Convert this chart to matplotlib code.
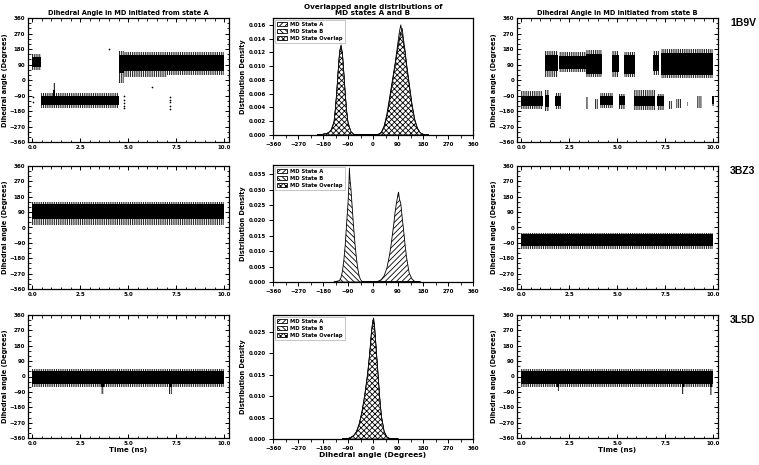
import numpy as np
import matplotlib
matplotlib.use("Agg")
import matplotlib.pyplot as plt
from matplotlib.ticker import MultipleLocator, FormatStrFormatter
from matplotlib.patches import Patch

plt.rcParams['font.family'] = ['DejaVu Sans']
plt.rcParams['hatch.linewidth'] = 0.6

# ---------------- data ----------------
ROW_LABELS = ["1B9V", "3BZ3", "3L5D"]
TITLE_LEFT = "Dihedral Angle in MD initiated from state A"
TITLE_MID = "Overlapped angle distributions of\nMD states A and B"
TITLE_RIGHT = "Dihedral Angle in MD initiated from state B"
LEGEND_LABELS = ["MD State A", "MD State B", "MD State Overlap"]

# dense trajectory bands: (t_start, t_end, outer_low, core_low, core_high, outer_high)
BANDS_1B9V_A = [(0.0, 0.45, 60, 75, 135, 150), (0.45, 4.5, -165, -145, -90, -75),
                (1.1, 1.2, -90, -90, -60, -20),
                (4.5, 4.8, -15, 40, 145, 170), (4.8, 7.0, 20, 50, 145, 165),
                (7.0, 10.0, 30, 55, 145, 165)]
BANDS_1B9V_B = [(1.25, 1.9, 20, 50, 145, 170), (1.98, 3.4, 45, 65, 140, 160),
                (3.4, 4.2, 15, 35, 150, 175), (4.72, 5.1, 20, 45, 145, 170),
                (5.33, 5.94, 15, 35, 145, 165), (6.85, 7.17, 30, 55, 145, 170),
                (7.26, 10.0, 10, 30, 155, 180),
                (0.0, 1.14, -170, -150, -90, -65), (1.22, 1.45, -180, -155, -85, -60),
                (1.75, 2.05, -170, -150, -90, -75), (4.1, 4.8, -165, -145, -90, -75),
                (5.07, 5.42, -170, -145, -90, -80), (5.86, 6.99, -175, -150, -90, -60),
                (7.08, 7.43, -175, -150, -95, -80), (9.93, 10.02, -150, -140, -95, -90)]
SPARSE_1B9V_B = [(3.37, 3.5, -170, -100), (3.85, 4.02, -170, -110), (7.7, 7.87, -170, -120),
                 (8.04, 8.4, -165, -110), (8.62, 8.7, -150, -130), (9.18, 9.44, -160, -90)]
BANDS_3BZ3_A = [(0.0, 10.0, 15, 50, 135, 150)]
BANDS_3BZ3_B = [(0.0, 10.0, -125, -111, -40, -30)]
BANDS_3L5D_A = [(0.0, 10.0, -60, -42, 32, 45), (3.6, 3.72, -100, -60, -42, -42),
                (7.15, 7.27, -105, -60, -42, -42)]
BANDS_3L5D_B = [(0.0, 10.0, -60, -42, 34, 45), (1.85, 1.95, -85, -60, -42, -42),
                (8.4, 8.5, -105, -60, -42, -42), (9.85, 9.95, -110, -60, -42, -42)]

PTS_1B9V_A_T = [0.05, 0.05, 4.0, 4.76, 4.76, 4.76, 4.76, 4.76, 6.25, 7.2, 7.2, 7.2, 7.2, 7.2]
PTS_1B9V_A_Y = [-100, -130, 180, -95, -115, -135, -150, -165, -41, -100, -115, -130, -150, -170]

# distributions (x in degrees, density)
X_1B9V = [-200, -180, -160, -150, -140, -135, -130, -125, -120, -115, -110, -105, -100, -95,
          -90, -80, -70, -50, 0, 20, 30, 40, 50, 60, 70, 80, 90, 95, 100, 105, 110, 115, 120,
          130, 140, 150, 160, 170, 180, 200]
A_1B9V = [0, 0.0001, 0.0003, 0.0008, 0.002, 0.004, 0.0065, 0.0095, 0.0122, 0.0131, 0.0118,
          0.009, 0.006, 0.0035, 0.0018, 0.0005, 0.0001, 0, 0, 0.0001, 0.0004, 0.0013, 0.003,
          0.0055, 0.008, 0.0105, 0.0135, 0.015, 0.016, 0.0148, 0.0132, 0.012, 0.0102, 0.0072,
          0.0043, 0.0021, 0.0009, 0.0003, 0.0001, 0]
B_1B9V = [0, 0.0001, 0.0003, 0.0007, 0.0018, 0.0038, 0.0063, 0.0093, 0.012, 0.0128, 0.0116,
          0.0088, 0.0058, 0.0034, 0.0017, 0.0005, 0.0001, 0, 0, 0.0001, 0.0003, 0.0011, 0.0027,
          0.005, 0.0076, 0.0102, 0.0128, 0.0138, 0.0148, 0.0155, 0.0138, 0.0124, 0.0106, 0.0076,
          0.0046, 0.0023, 0.001, 0.0003, 0.0001, 0]

X_3BZ3 = [-140, -120, -115, -110, -105, -100, -95, -90, -87, -85, -83, -80, -75, -70, -65, -60,
          -55, -50, -45, -40, -30, 0, 10, 20, 30, 40, 50, 60, 65, 70, 75, 80, 85, 90, 92, 95,
          100, 105, 110, 115, 120, 130, 140, 150, 170]
A_3BZ3 = [0, 0, 0, 0, 0, 0, 0, 0, 0, 0, 0, 0, 0, 0, 0, 0, 0, 0, 0, 0, 0, 0, 0.0001, 0.0003,
          0.0008, 0.002, 0.0045, 0.009, 0.012, 0.0155, 0.019, 0.023, 0.026, 0.0285, 0.0292,
          0.027, 0.0255, 0.021, 0.017, 0.0125, 0.0085, 0.003, 0.001, 0.0002, 0]
B_3BZ3 = [0, 0.0005, 0.0015, 0.0035, 0.007, 0.012, 0.019, 0.0255, 0.031, 0.037, 0.0335, 0.031,
          0.0245, 0.018, 0.0125, 0.008, 0.0045, 0.002, 0.0008, 0.0002, 0, 0, 0, 0, 0, 0, 0, 0,
          0, 0, 0, 0, 0, 0, 0, 0, 0, 0, 0, 0, 0, 0, 0, 0, 0]

X_3L5D = [-110, -90, -80, -70, -60, -50, -40, -30, -20, -15, -10, -5, 0, 2, 5, 10, 15, 20, 25,
          30, 40, 50, 60, 70, 90]
A_3L5D = [0, 0.0001, 0.0003, 0.0007, 0.0015, 0.0032, 0.006, 0.0098, 0.0145, 0.0175, 0.021,
          0.025, 0.0275, 0.0283, 0.027, 0.0225, 0.018, 0.0135, 0.009, 0.0055, 0.0018, 0.0005,
          0.0001, 0, 0]
B_3L5D = [0, 0.0001, 0.0004, 0.0008, 0.0017, 0.0035, 0.0063, 0.0102, 0.015, 0.018, 0.0215,
          0.0255, 0.0278, 0.0275, 0.0262, 0.022, 0.0175, 0.013, 0.0086, 0.0052, 0.0016, 0.0004,
          0.0001, 0, 0]

DIST = [(X_1B9V, A_1B9V, B_1B9V, 0.017, 0.002),
        (X_3BZ3, A_3BZ3, B_3BZ3, 0.038, 0.005),
        (X_3L5D, A_3L5D, B_3L5D, 0.029, 0.005)]
LEFT_BANDS = [BANDS_1B9V_A, BANDS_3BZ3_A, BANDS_3L5D_A]
RIGHT_BANDS = [BANDS_1B9V_B, BANDS_3BZ3_B, BANDS_3L5D_B]

# ---------------- layout ----------------
W, H = 759, 465
fig = plt.figure(figsize=(W / 100, H / 100), dpi=100)

def box(l, r, t, b):
    return [l / W, 1 - b / H, (r - l) / W, (b - t) / H]

SIDE_ROWS = [(18, 142), (166, 289), (315, 438)]
MID_ROWS = [(18, 135), (165, 282), (315, 439)]

TF = 4.0
LF = 4.8
FRINGE = '|||||||||'

def style_traj(ax):
    ax.set_xlim(-0.22, 10.25)
    ax.set_ylim(-360, 360)
    ax.xaxis.set_major_locator(MultipleLocator(2.5))
    ax.xaxis.set_minor_locator(MultipleLocator(0.5))
    ax.yaxis.set_major_locator(MultipleLocator(90))
    ax.yaxis.set_minor_locator(MultipleLocator(30))
    ax.tick_params(which='both', direction='in', top=True, right=True, labelsize=TF, pad=2)
    ax.tick_params(which='major', length=3, width=0.7)
    ax.tick_params(which='minor', length=1.8, width=0.6)
    for lab in ax.get_xticklabels() + ax.get_yticklabels():
        lab.set_fontweight('bold')
    for s in ax.spines.values():
        s.set_linewidth(0.9)
    ax.set_ylabel("Dihedral angle (Degrees)", fontsize=LF, fontweight='bold', labelpad=1)

def draw_bands(ax, bands, sparse=()):
    for (t0, t1, olo, clo, chi, ohi) in bands:
        ax.fill_between([t0, t1], [olo, olo], [ohi, ohi], facecolor='none', edgecolor='black',
                        hatch=FRINGE, linewidth=0)
        if chi > clo:
            ax.fill_between([t0, t1], [clo, clo], [chi, chi], color='black', linewidth=0)
    for (t0, t1, lo, hi) in sparse:
        ax.fill_between([t0, t1], [lo, lo], [hi, hi], facecolor='none', edgecolor='black',
                        hatch=FRINGE, linewidth=0)

for i in range(3):
    t, b = SIDE_ROWS[i]
    axl = fig.add_axes(box(28, 229, t, b))
    draw_bands(axl, LEFT_BANDS[i])
    if i == 0:
        axl.scatter(PTS_1B9V_A_T, PTS_1B9V_A_Y, s=1.5, color='black', linewidths=0)
    style_traj(axl)

    axr = fig.add_axes(box(517, 718, t, b))
    draw_bands(axr, RIGHT_BANDS[i], SPARSE_1B9V_B if i == 0 else ())
    style_traj(axr)

    if i == 0:
        axl.set_title(TITLE_LEFT, fontsize=LF, fontweight='bold', pad=2)
        axr.set_title(TITLE_RIGHT, fontsize=LF, fontweight='bold', pad=2)
    if i == 2:
        axl.set_xlabel("Time (ns)", fontsize=LF + 0.3, fontweight='bold', labelpad=1)
        axr.set_xlabel("Time (ns)", fontsize=LF + 0.3, fontweight='bold', labelpad=1)

    fig.text(730 / W, 1 - (t + 5) / H, ROW_LABELS[i], fontsize=7.5, fontweight='bold',
             family='Liberation Sans', va='center', ha='left')

    # middle distributions
    mt, mb = MID_ROWS[i]
    axm = fig.add_axes(box(273, 473, mt, mb))
    x, a, bb, ymax, ystep = DIST[i]
    x = np.array(x, float)
    a = np.array(a, float)
    bb = np.array(bb, float)
    ov = np.minimum(a, bb)
    axm.fill_between(x, 0, a, facecolor='white', edgecolor='black', hatch='//////', linewidth=0.6)
    axm.fill_between(x, 0, bb, facecolor='white', edgecolor='black', hatch='\\\\\\\\\\\\', linewidth=0.6)
    axm.fill_between(x, 0, ov, facecolor='white', edgecolor='black', hatch='xxxxxx', linewidth=0.6)
    axm.set_xlim(-360, 360)
    axm.set_ylim(0, ymax)
    axm.xaxis.set_major_locator(MultipleLocator(90))
    axm.xaxis.set_minor_locator(MultipleLocator(45))
    axm.yaxis.set_major_locator(MultipleLocator(ystep))
    axm.tick_params(which='both', direction='out', labelsize=TF, pad=2)
    axm.tick_params(which='major', length=3, width=0.7)
    axm.tick_params(which='minor', length=1.8, width=0.6)
    axm.yaxis.set_major_formatter(FormatStrFormatter('%.3f'))
    for lab in axm.get_xticklabels() + axm.get_yticklabels():
        lab.set_fontweight('bold')
    for s in axm.spines.values():
        s.set_linewidth(0.9)
    axm.set_ylabel("Distribution Density", fontsize=LF, fontweight='bold', labelpad=2)
    handles = [Patch(facecolor='white', edgecolor='black', hatch='//////', linewidth=0.6),
               Patch(facecolor='white', edgecolor='black', hatch='\\\\\\\\\\\\', linewidth=0.6),
               Patch(facecolor='white', edgecolor='black', hatch='xxxxxx', linewidth=0.6)]
    leg = axm.legend(handles, LEGEND_LABELS, loc='upper left', fontsize=3.8, frameon=True,
                     handlelength=2.0, handleheight=0.9, borderpad=0.4, labelspacing=0.4,
                     handletextpad=0.6, fancybox=False, borderaxespad=0.3)
    leg.get_frame().set_linewidth(0.5)
    leg.get_frame().set_edgecolor('#999999')
    for txt in leg.get_texts():
        txt.set_fontweight('bold')
    if i == 0:
        axm.set_title(TITLE_MID, fontsize=LF + 0.4, fontweight='bold', pad=2, linespacing=1.0)
    if i == 2:
        axm.set_xlabel("Dihedral angle (Degrees)", fontsize=LF + 0.6, fontweight='bold', labelpad=1)

fig.savefig("out.png", dpi=100)
